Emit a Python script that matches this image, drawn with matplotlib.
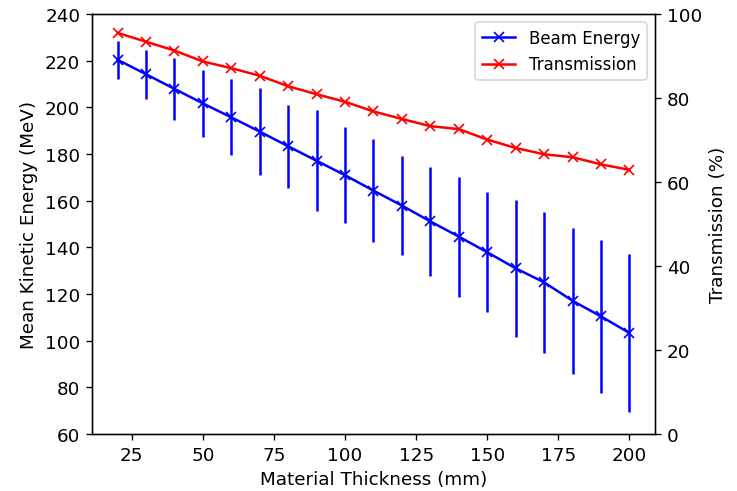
import matplotlib
matplotlib.use("Agg")
import matplotlib.pyplot as plt

thickness = [20, 30, 40, 50, 60, 70, 80, 90, 100, 110, 120, 130, 140, 150, 160, 170, 180, 190, 200]
beam_energy = [220.4, 214.2, 207.9, 201.7, 195.7, 189.6, 183.3, 177.1, 170.9, 164.3,
               157.9, 151.1, 144.6, 137.9, 131.0, 125.0, 117.1, 110.4, 103.3]
energy_spread = [8.1, 10.5, 13.3, 14.3, 16.3, 18.5, 17.8, 21.6, 20.5, 22.1,
                 21.3, 23.5, 25.7, 25.6, 29.3, 30.1, 31.2, 32.9, 34.0]
transmission = [95.5, 93.4, 91.3, 88.7, 87.1, 85.3, 82.8, 80.9, 79.1, 76.8,
                75.0, 73.3, 72.6, 70.1, 68.1, 66.6, 65.9, 64.2, 62.9]

plt.rcParams["font.size"] = 11
plt.rcParams["legend.fontsize"] = 10

fig = plt.figure(figsize=(737 / 120, 492 / 120), dpi=120)
ax = fig.add_subplot(111)
fig.subplots_adjust(left=0.1248, right=0.8887, bottom=0.1159, top=0.9695)

ax.errorbar(thickness, beam_energy, yerr=energy_spread, fmt="none", ecolor="blue")
h1, = ax.plot(thickness, beam_energy, color="blue", marker="x", label="Beam Energy")
ax.set_xlabel("Material Thickness (mm)")
ax.set_ylabel("Mean Kinetic Energy (MeV)")
ax.set_ylim(60, 240)

ax2 = ax.twinx()
h2, = ax2.plot(thickness, transmission, color="red", marker="x", label="Transmission")
ax2.set_ylabel("Transmission (%)")
ax2.set_ylim(0, 100)

ax2.legend([h1, h2], ["Beam Energy", "Transmission"], loc="upper right")

fig.savefig("out.png", dpi=120)
